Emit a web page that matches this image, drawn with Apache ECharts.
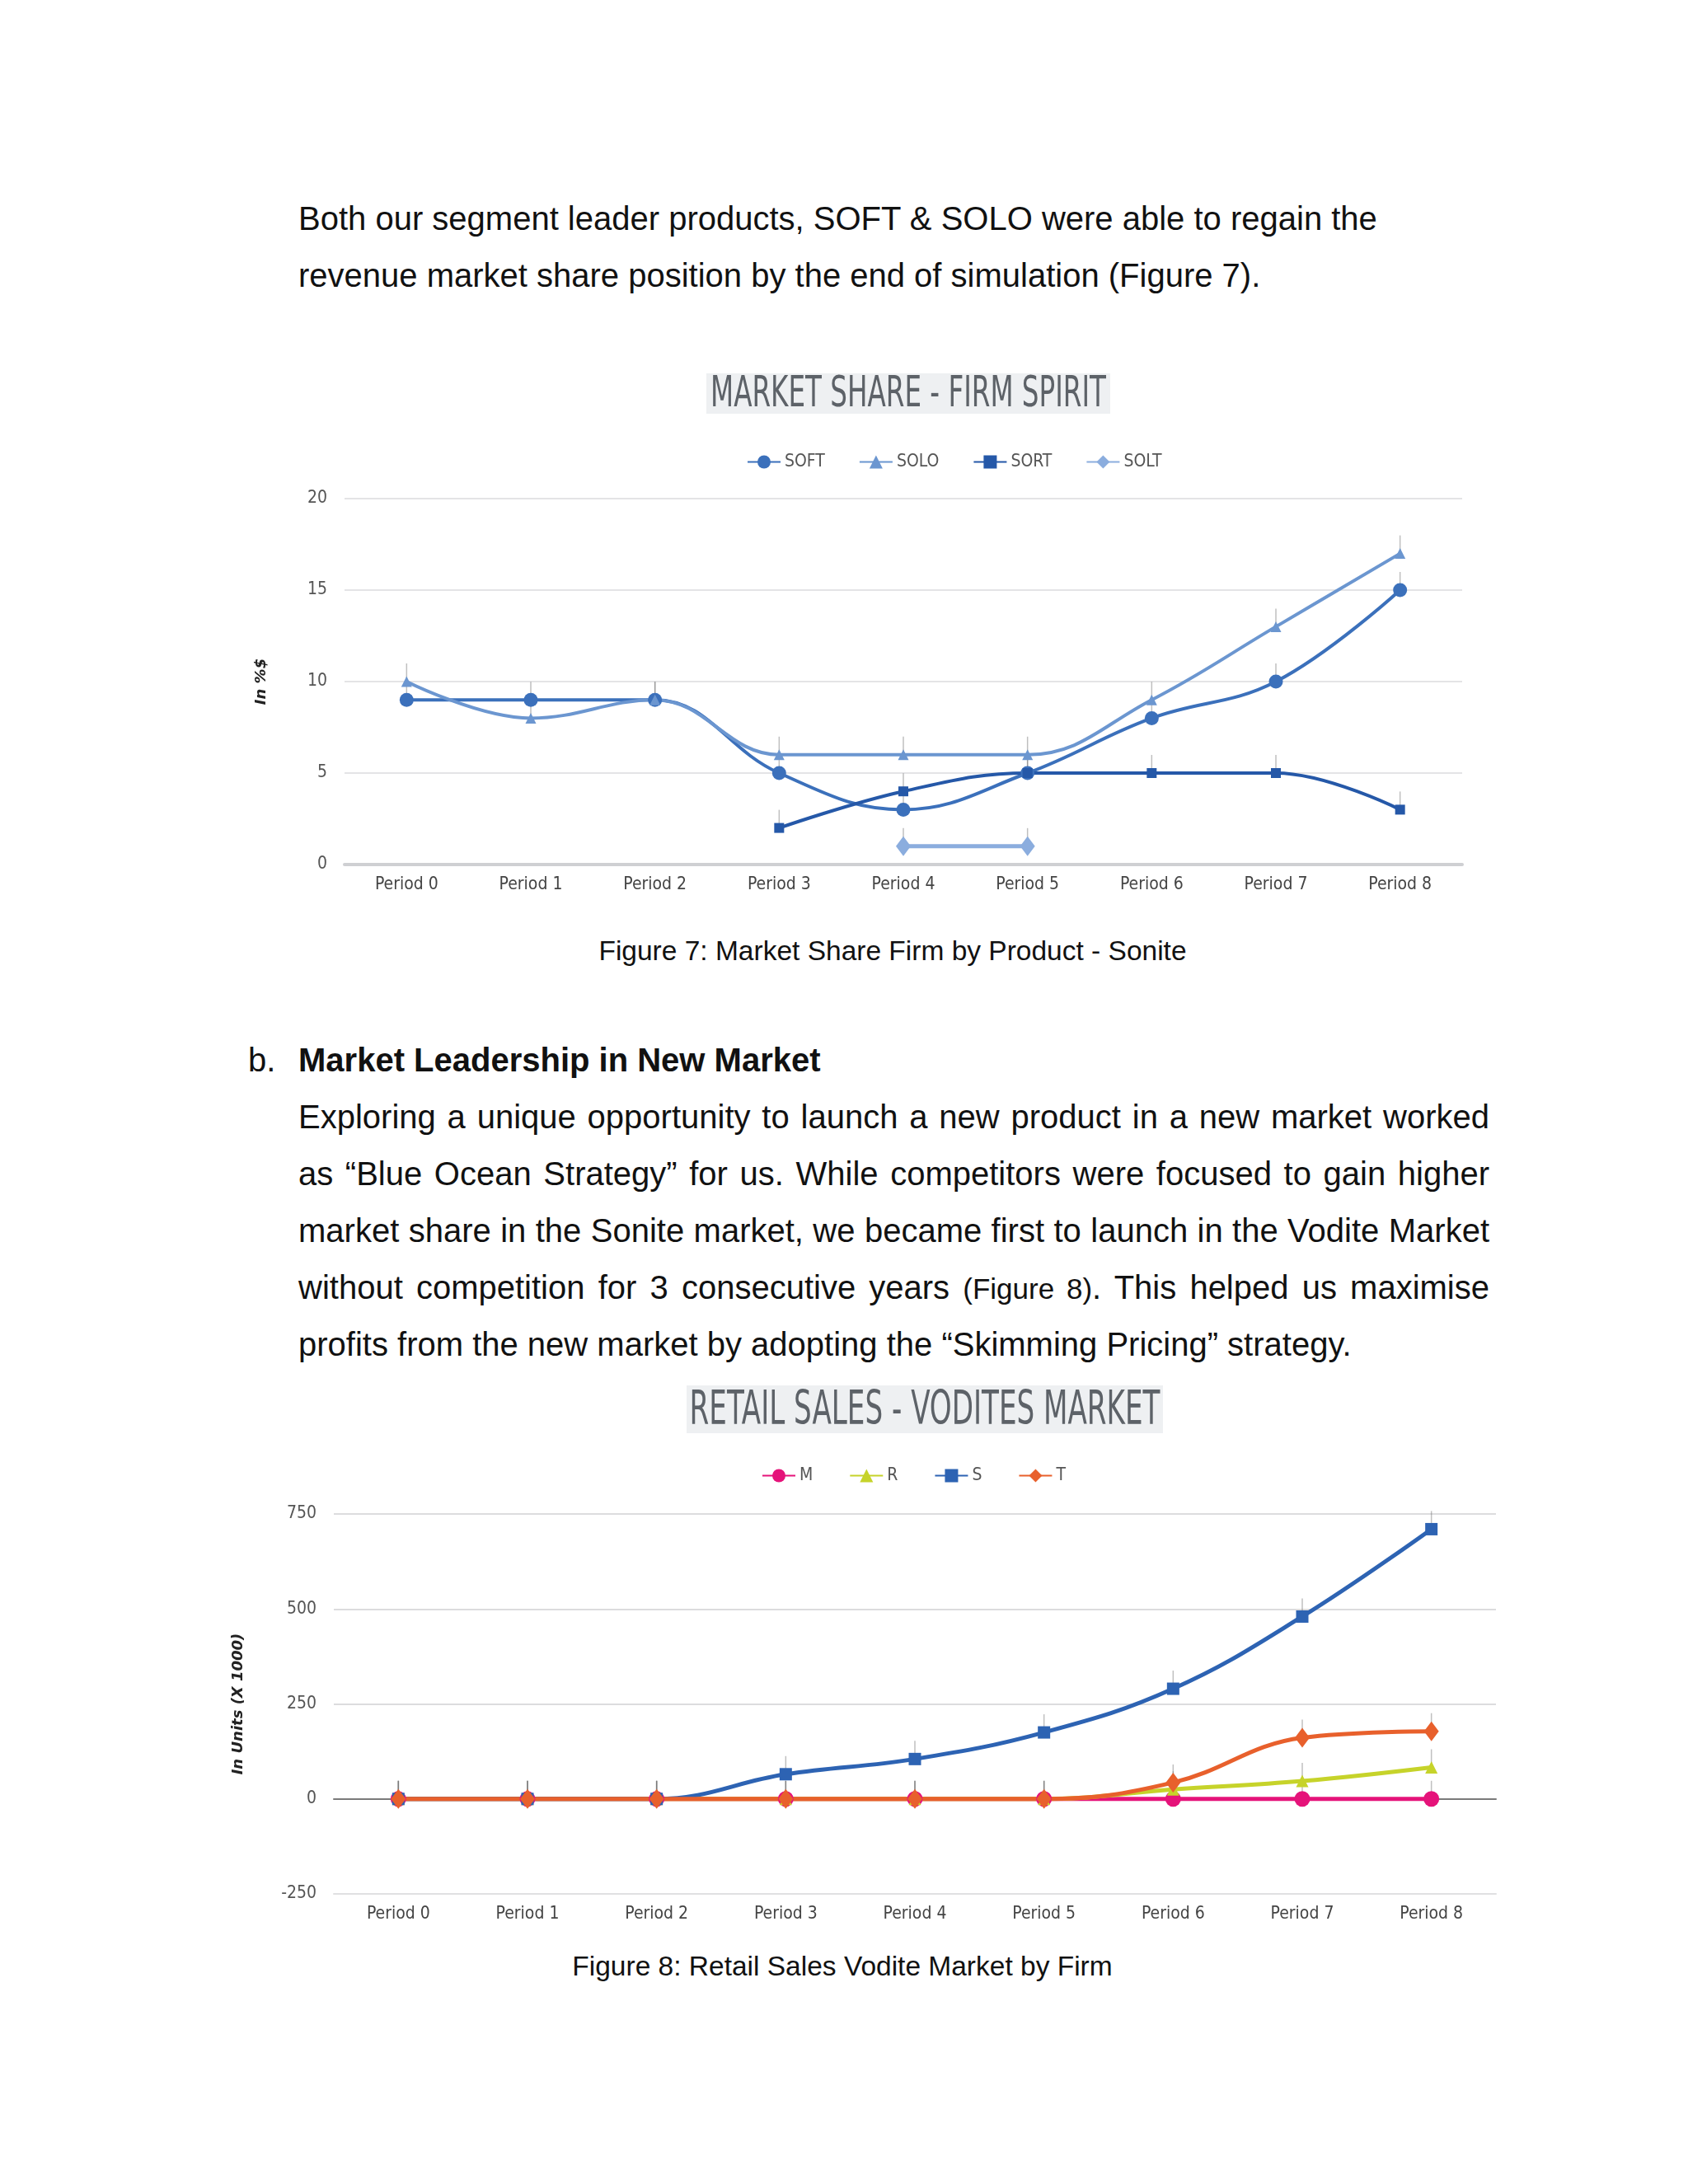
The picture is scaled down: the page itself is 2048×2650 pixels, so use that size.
<!DOCTYPE html>
<html>
<head>
<meta charset="utf-8">
<script src="https://cdn.jsdelivr.net/npm/echarts@6/dist/echarts.min.js"></script>
<style>
  html, body { margin: 0; padding: 0; background: #fff; }
  body { width: 2048px; height: 2650px; position: relative; font-family: 'Liberation Sans', Arial, sans-serif; color: #111; }
  .txt { position: absolute; font-size: 40px; line-height: 69px; white-space: nowrap; }
  .just { width: 1445px; text-align: justify; text-align-last: justify; white-space: normal; }
  .cap { position: absolute; font-size: 33.5px; line-height: 40px; text-align: center; width: 1200px; }
  .chart { position: absolute; left: 0; width: 2048px; height: 720px; }
</style>
</head>
<body>
<div class="txt" style="left:362px;top:231px;">Both our segment leader products, SOFT &amp; SOLO were able to regain the</div>
<div class="txt" style="left:362px;top:300px;">revenue market share position by the end of simulation (Figure 7).</div>

<div id="chartShare" class="chart" style="top:400px;"></div>
<div class="cap" style="left:483px;top:1134px;">Figure 7: Market Share Firm by Product - Sonite</div>

<div class="txt" style="left:301px;top:1252px;">b.</div>
<div class="txt" style="left:362px;top:1252px;font-weight:bold;">Market Leadership in New Market</div>
<div class="txt just" style="left:362px;top:1321px;">Exploring a unique opportunity to launch a new product in a new market worked</div>
<div class="txt just" style="left:362px;top:1390px;">as “Blue Ocean Strategy” for us. While competitors were focused to gain higher</div>
<div class="txt just" style="left:362px;top:1459px;">market share in the Sonite market, we became first to launch in the Vodite Market</div>
<div class="txt just" style="left:362px;top:1528px;">without competition for 3 consecutive years <span style="font-size:35px;">(Figure 8)</span>. This helped us maximise</div>
<div class="txt" style="left:362px;top:1597px;">profits from the new market by adopting the “Skimming Pricing” strategy.</div>

<div id="chartSales" class="chart" style="top:1640px;"></div>
<div class="cap" style="left:422px;top:2366px;">Figure 8: Retail Sales Vodite Market by Firm</div>

<script>
const periods = ['Period 0', 'Period 1', 'Period 2', 'Period 3', 'Period 4', 'Period 5', 'Period 6', 'Period 7', 'Period 8']

// market share (in %$)
const shareSoft = [9, 9, 9, 5, 3, 5, 8, 10, 15]
const shareSolo = [10, 8, 9, 6, 6, 6, 9, 13, 17]
const shareSort = [null, null, null, 2, 4, 5, 5, 5, 3]
const shareSolt = [null, null, null, null, 1, 1, null, null, null]
const shareTicks = [0, 5, 10, 15, 20]

// retail sales (units x 1000)
const salesM = [0, 0, 0, 0, 0, 0, 0, 0, 0]
const salesR = [0, 0, 0, 0, 0, 0, 25, 47, 83]
const salesS = [0, 0, 0, 65, 105, 175, 290, 480, 710]
const salesT = [0, 0, 0, 0, 0, 0, 43, 161, 178]
const salesTicks = [-250, 0, 250, 500, 750]

const narrow = "'Liberation Sans Narrow', 'DejaVu Sans Condensed', 'Open Sans', sans-serif"

const lineSeries = (name, data, color, symbol, size, width) => ({
    name,
    type: 'line',
    data,
    smooth: 0.4,
    symbol,
    symbolSize: size,
    showSymbol: true,
    connectNulls: false,
    lineStyle: {color, width},
    itemStyle: {color},
    emphasis: {disabled: true},
    z: 3,
})

// thin grey marks sitting above each point
const whiskers = (data) => ({
    type: 'scatter',
    data,
    symbol: 'rect',
    symbolSize: [1.5, 22],
    symbolOffset: [0, -11],
    itemStyle: {color: 'rgba(110,110,110,0.55)'},
    silent: true,
    z: 2,
})

const titleBlock = (text, cx, cy, box, fontSize, sx) => [
    {type: 'rect', shape: box, style: {fill: '#eef0f2'}, silent: true},
    {
        type: 'text',
        x: cx,
        y: cy,
        scaleX: sx,
        style: {
            text,
            fill: '#5d6268',
            font: `${fontSize}px ${narrow}`,
            textAlign: 'center',
            textVerticalAlign: 'middle',
        },
        silent: true,
    },
]

const axisBase = (ticks) => ({
    type: 'value',
    min: ticks[0],
    max: ticks[ticks.length - 1],
    interval: ticks[1] - ticks[0],
    axisLine: {show: false},
    axisTick: {show: false},
    axisLabel: {color: '#555', fontFamily: narrow, fontSize: 21, margin: 21},
    nameLocation: 'middle',
    nameRotate: 90,
    nameTextStyle: {fontFamily: 'DejaVu Sans', fontWeight: 'bold', fontStyle: 'italic', fontSize: 18, color: '#222'},
})

const catAxis = (lineColor, lineWidth) => ({
    type: 'category',
    data: periods,
    boundaryGap: true,
    axisTick: {show: false},
    axisLine: {onZero: false, lineStyle: {color: lineColor, width: lineWidth}},
    axisLabel: {color: '#444', fontFamily: narrow, fontSize: 21, margin: 14},
})

const legendBase = (names, left, top, gap) => ({
    data: names,
    left,
    top,
    itemWidth: 40,
    itemHeight: 20,
    itemGap: gap,
    textStyle: {color: '#555', fontFamily: narrow, fontSize: 21},
})

const shareChart = echarts.init(document.getElementById('chartShare'))
shareChart.setOption({
    animation: false,
    graphic: titleBlock('MARKET SHARE - FIRM SPIRIT', 1102, 80, {x: 857, y: 53, width: 490, height: 49}, 51, 0.71),
    legend: legendBase(['SOFT', 'SOLO', 'SORT', 'SOLT'], 901, 145, 41),
    grid: {left: 418, right: 274, top: 205, bottom: 71},
    xAxis: catAxis('#cfd0d3', 4),
    yAxis: {
        ...axisBase(shareTicks),
        name: 'In %$',
        nameGap: 92,
        splitLine: {lineStyle: {color: '#e4e4e6', width: 2}},
    },
    series: [
        lineSeries('SOFT', shareSoft, '#3b70bb', 'circle', 17, 4),
        lineSeries('SOLO', shareSolo, '#6b96d0', 'triangle', 13, 4),
        lineSeries('SORT', shareSort, '#2558a8', 'rect', 12, 4),
        lineSeries('SOLT', shareSolt, '#8badde', 'diamond', [18, 24], 5),
        whiskers(shareSoft),
        whiskers(shareSolo),
        whiskers(shareSort),
        whiskers(shareSolt),
    ],
})

const salesChart = echarts.init(document.getElementById('chartSales'))
salesChart.setOption({
    animation: false,
    graphic: titleBlock('RETAIL SALES - VODITES MARKET', 1122, 73, {x: 833, y: 41, width: 578, height: 58}, 57, 0.666),
    legend: legendBase(['M', 'R', 'S', 'T'], 919, 135, 44),
    grid: {left: 405, right: 233, top: 197, bottom: 62},
    xAxis: [
        catAxis('#e0e0e2', 2),
        // zero line of the value axis, labels stay on the bottom axis
        {
            type: 'category',
            data: periods,
            position: 'bottom',
            axisLine: {onZero: true, lineStyle: {color: '#7a7a7a', width: 2}},
            axisTick: {show: false},
            axisLabel: {show: false},
        },
    ],
    yAxis: {
        ...axisBase(salesTicks),
        name: 'In Units (X 1000)',
        nameGap: 107,
        splitLine: {lineStyle: {color: '#dcdcde', width: 2}},
    },
    series: [
        lineSeries('M', salesM, '#e5137a', 'circle', 19, 5),
        lineSeries('R', salesR, '#c6d32a', 'triangle', 15, 5),
        lineSeries('S', salesS, '#2d63b3', 'rect', 15, 5),
        lineSeries('T', salesT, '#e8602c', 'diamond', [18, 24], 5),
        whiskers(salesM),
        whiskers(salesR),
        whiskers(salesS),
        whiskers(salesT),
    ],
})
</script>
</body>
</html>
